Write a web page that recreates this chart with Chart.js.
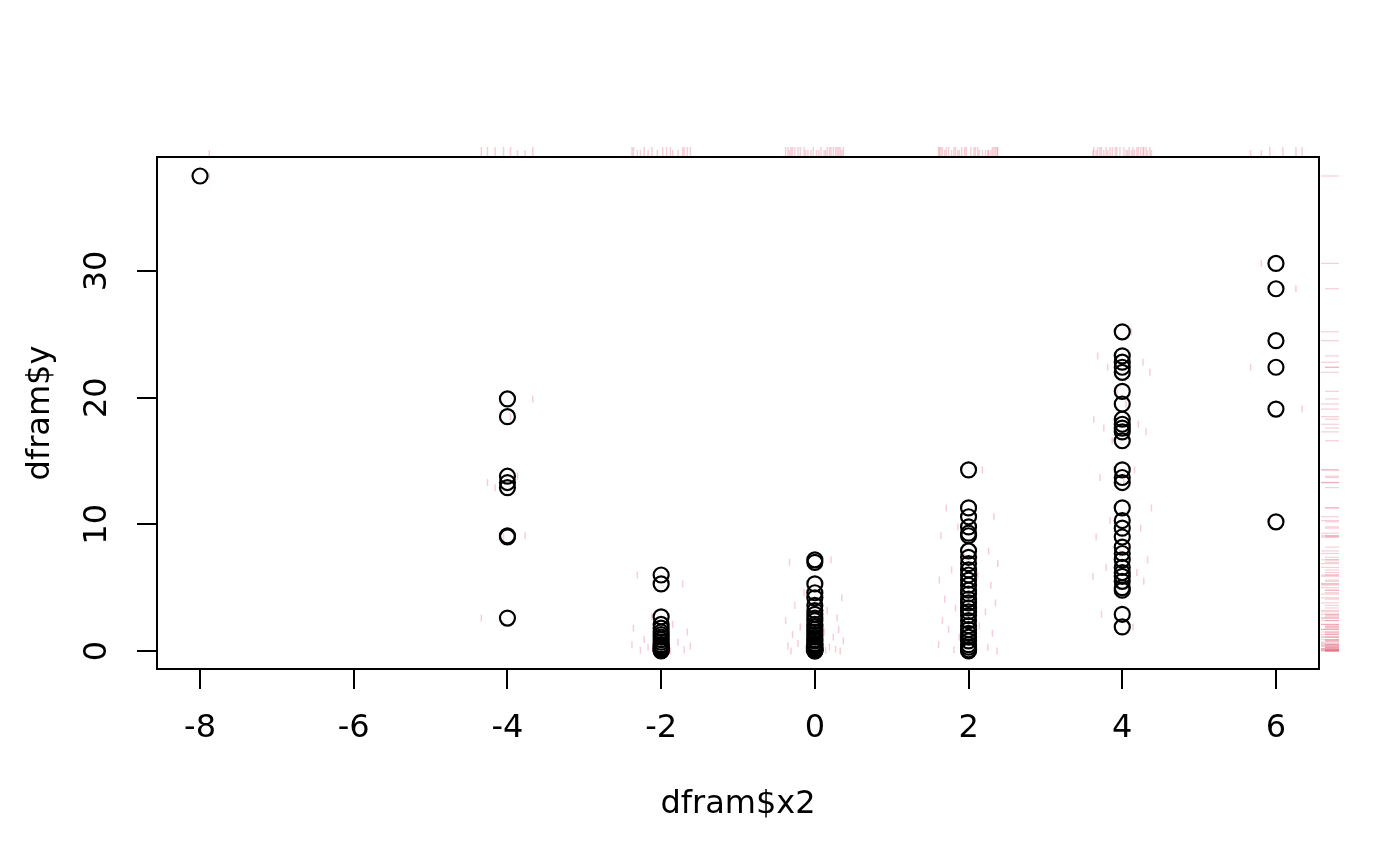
<!DOCTYPE html>
<html>
<head>
<meta charset="utf-8">
<script src="https://cdn.jsdelivr.net/npm/chart.js@4.4.1/dist/chart.umd.min.js"></script>
<style>
  html, body { margin: 0; padding: 0; background: #fff; }
  canvas { display: block; }
</style>
</head>
<body>
<canvas id="plot" width="1400" height="866"></canvas>
<script>
// x levels of dfram$x2 and the y values read at each level
const xLevels = [-8, -4, -2, 0, 2, 4, 6];
const yByLevel = [
    [37.5],
    [19.9, 18.5, 13.8, 13.3, 12.9, 9.1, 9.0, 2.6],
    [6.0, 5.3, 2.7, 2.1, 1.8, 1.5, 1.3, 1.1, 0.9, 0.7, 0.5, 0.4, 0.3, 0.2, 0.1, 0.05, 0.0],
    [7.2, 7.0, 5.3, 4.6, 4.2, 3.6, 3.2, 2.9, 2.6, 2.4, 2.1, 1.9, 1.7, 1.5, 1.3, 1.1, 0.9, 0.8, 0.6, 0.5, 0.4, 0.3, 0.2, 0.15, 0.1, 0.05, 0.0, 0.0],
    [14.3, 11.3, 10.6, 9.8, 9.3, 9.1, 7.9, 7.4, 6.9, 6.4, 6.0, 5.6, 5.2, 4.8, 4.5, 4.1, 3.8, 3.4, 3.1, 2.8, 2.4, 2.0, 1.7, 1.4, 1.1, 0.8, 0.5, 0.3, 0.1, 0.0],
    [25.2, 23.3, 22.8, 22.4, 22.0, 20.5, 19.5, 18.3, 17.9, 17.6, 17.3, 16.6, 14.3, 13.7, 13.3, 11.3, 10.3, 9.7, 9.0, 8.2, 7.7, 7.2, 6.6, 6.2, 5.9, 5.5, 5.0, 4.8, 2.9, 1.9],
    [30.6, 28.6, 24.5, 22.4, 19.1, 10.2]
];
// jittered x positions (the pink ticks and the top rug)
const xJittered = [
    [-7.88],
    [-3.67, -3.96, -3.87, -4.26, -4.16, -3.77, -4.05, -4.34],
    [-2.31, -1.72, -2.12, -1.85, -2.36, -1.66, -2.05, -1.93, -2.22, -1.78, -2.38, -1.62, -2.17, -1.98, -1.70, -2.27, -1.88],
    [0.21, -0.33, 0.08, -0.14, 0.35, -0.26, 0.16, -0.05, 0.29, -0.38, 0.02, -0.19, 0.31, 0.12, -0.29, 0.24, -0.09, 0.37, -0.22, 0.05, -0.35, 0.19, -0.12, 0.27, -0.02, 0.14, -0.31, 0.33],
    [2.18, 1.71, 2.33, 1.86, 2.07, 1.64, 2.26, 1.95, 2.38, 1.78, 2.12, 1.62, 2.29, 1.91, 2.03, 1.69, 2.35, 1.83, 2.22, 1.97, 1.66, 2.14, 1.74, 2.31, 1.88, 2.09, 1.61, 2.25, 1.81, 2.37],
    [4.12, 3.68, 4.27, 3.81, 4.36, 3.93, 4.05, 3.63, 4.21, 3.76, 4.31, 3.87, 4.16, 3.71, 4.02, 4.38, 3.84, 4.24, 3.66, 4.09, 3.97, 4.33, 3.79, 4.19, 3.62, 4.28, 3.91, 4.07, 3.73, 4.14],
    [5.81, 6.26, 6.09, 5.67, 6.34, 5.92]
];
const xTicks = [-8, -6, -4, -2, 0, 2, 4, 6];
const yTicks = [0, 10, 20, 30];

const FONT = { family: 'DejaVu Sans', size: 32 };
const PINK = 'rgba(223, 83, 107, 0.28)';

const points = [];
const jitterPoints = [];
xLevels.forEach((x, i) => {
    yByLevel[i].forEach((y, j) => {
        points.push({ x: x, y: y });
        jitterPoints.push({ x: xJittered[i][j], y: y });
    });
});

// box, rotated y labels and the two rugs, R style
const rPlotExtras = {
    id: 'rPlotExtras',
    afterDraw(chart) {
        const { ctx, chartArea: area, scales } = chart;
        ctx.save();

        ctx.strokeStyle = '#000';
        ctx.lineWidth = 2;
        ctx.strokeRect(area.left, area.top, area.right - area.left, area.bottom - area.top);

        ctx.fillStyle = '#000';
        ctx.font = `${FONT.size}px "${FONT.family}"`;
        ctx.textAlign = 'center';
        ctx.textBaseline = 'middle';
        scales.y.ticks.forEach(t => {
            const py = scales.y.getPixelForValue(t.value);
            ctx.save();
            ctx.translate(98, py);
            ctx.rotate(-Math.PI / 2);
            ctx.fillText(String(t.value), 0, 0);
            ctx.restore();
        });

        ctx.strokeStyle = PINK;
        ctx.lineWidth = 1.5;
        xJittered.flat().forEach((v, i) => {
            const px = scales.x.getPixelForValue(v);
            ctx.beginPath();
            ctx.moveTo(px, area.top - 1);
            ctx.lineTo(px, area.top - (i % 3 === 0 ? 7 : 10));
            ctx.stroke();
        });
        ctx.lineWidth = 1.2;
        yByLevel.flat().forEach((v, i) => {
            const py = scales.y.getPixelForValue(v);
            ctx.beginPath();
            ctx.moveTo(area.right + (i % 2 === 0 ? 2 : 6), py);
            ctx.lineTo(area.right + 20, py);
            ctx.stroke();
        });

        ctx.restore();
    }
};

const tickGrid = {
    display: true,
    drawOnChartArea: false,
    drawTicks: true,
    tickLength: 20,
    color: '#000',
    lineWidth: 2
};

new Chart(document.getElementById('plot'), {
    type: 'scatter',
    data: {
        datasets: [
            {
                data: points,
                pointStyle: 'circle',
                pointRadius: 7.5,
                borderColor: '#000',
                borderWidth: 2.2,
                backgroundColor: 'rgba(0,0,0,0)'
            },
            {
                data: jitterPoints,
                pointStyle: 'line',
                rotation: 90,
                pointRadius: 3.5,
                borderColor: PINK,
                borderWidth: 1.5
            }
        ]
    },
    options: {
        responsive: false,
        devicePixelRatio: 1,
        animation: false,
        layout: { padding: { top: 157, right: 81, left: 0, bottom: 0 } },
        plugins: { legend: { display: false }, tooltip: { enabled: false } },
        scales: {
            x: {
                type: 'linear',
                min: -8.56,
                max: 6.56,
                afterBuildTicks: s => { s.ticks = xTicks.map(v => ({ value: v })); },
                afterFit: s => { s.height = 197; },
                grid: tickGrid,
                border: { display: false },
                ticks: { font: FONT, color: '#000', padding: 20, autoSkip: false, maxRotation: 0 },
                title: { display: true, text: 'dfram$x2', font: FONT, color: '#000', padding: { bottom: 42 } }
            },
            y: {
                type: 'linear',
                min: -1.42,
                max: 39.0,
                afterBuildTicks: s => { s.ticks = yTicks.map(v => ({ value: v })); },
                afterFit: s => { s.width = 157; },
                grid: tickGrid,
                border: { display: false },
                ticks: { display: false },
                title: { display: true, text: 'dfram$y', font: FONT, color: '#000', padding: { top: 21 } }
            }
        }
    },
    plugins: [rPlotExtras]
});
</script>
</body>
</html>
